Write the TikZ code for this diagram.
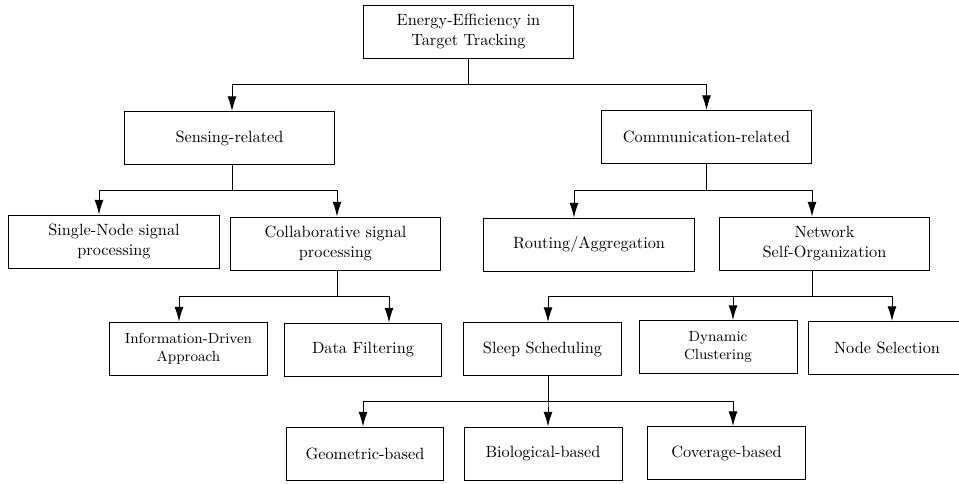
\documentclass[tikz,border=0pt]{standalone}
\usetikzlibrary{calc,arrows.meta}
\begin{document}
\begin{tikzpicture}[x=0.6134pt,y=-0.6134pt,
  box/.style={draw,line width=0.6pt,inner sep=0pt,align=center,minimum height=32.5pt},
  wbox/.style={box,minimum width=129.4pt},
  nbox/.style={box,minimum width=96.9pt},
  arr/.style={line width=0.6pt,-{Latex[length=9pt,width=5.5pt]}},
  ln/.style={line width=0.6pt}]
\useasboundingbox (0,0) rectangle (959,483);
\node[wbox] (root) at (468.5,31.5) {Energy-Efficiency in\\Target Tracking};
\node[wbox] (sens) at (229.5,138) {Sensing-related};
\node[wbox] (comm) at (706.5,137) {Communication-related};
\node[wbox,minimum width=130pt] (single) at (114,241.5) {Single-Node signal\\processing};
\node[wbox] (collab) at (335.5,243.5) {Collaborative signal\\processing};
\node[wbox,minimum width=130pt] (routing) at (589,244.5) {Routing/Aggregation};
\node[wbox] (network) at (824.5,243.5) {Network\\Self-Organization};
\node[nbox,font=\small] (info) at (188.5,348.5) {Information-Driven\\Approach};
\node[nbox] (data) at (363,349.5) {Data Filtering};
\node[nbox] (sleep) at (542.5,349) {Sleep Scheduling};
\node[nbox,font=\small] (dyn) at (718,347) {Dynamic\\Clustering};
\node[nbox] (nodesel) at (887,348) {Node Selection};
\node[nbox] (geo) at (365,453.5) {Geometric-based};
\node[nbox] (bio) at (543,453.5) {Biological-based};
\node[nbox] (cov) at (726.5,453) {Coverage-based};
% root
\draw[arr] (root.south) -- ++(0,26) -| ($(sens.north)+(2.5,0)$);
\draw[arr] (root.south) -- ++(0,26) -| (comm.north);
% sensing
\draw[arr] ($(sens.south)+(2.5,0)$) -- ++(0,26) -| ($(single.north)+(-15,0)$);
\draw[arr] ($(sens.south)+(2.5,0)$) -- ++(0,26) -| ($(collab.north)+(1.5,0)$);
% collaborative
\draw[arr] ($(collab.south)+(1.5,0)$) -- ++(0,26) -| ($(info.north)+(-9.5,0)$);
\draw[arr] ($(collab.south)+(1.5,0)$) -- ++(0,26) -| ($(data.north)+(26,0)$);
% communication
\draw[arr] (comm.south) -- ++(0,27) -| ($(routing.north)+(-15,0)$);
\draw[arr] (comm.south) -- ++(0,27) -| ($(network.north)+(-12.5,0)$);
% network
\draw[arr] ($(network.south)+(-12.5,0)$) -- ++(0,26) -| ($(sleep.north)+(5.5,0)$);
\draw[arr] ($(network.south)+(-12.5,0)$) -- ++(0,26) -| ($(dyn.north)+(15,0)$);
\draw[arr] ($(network.south)+(-12.5,0)$) -- ++(0,26) -| ($(nodesel.north)+(5,0)$);
% sleep
\draw[arr] ($(sleep.south)+(5.5,0)$) -- ++(0,26) -| ($(geo.north)+(-2,0)$);
\draw[arr] ($(sleep.south)+(5.5,0)$) -- ++(0,26) -| ($(bio.north)+(5,0)$);
\draw[arr] ($(sleep.south)+(5.5,0)$) -- ++(0,26) -| ($(cov.north)+(6.5,0)$);
\end{tikzpicture}
\end{document}
